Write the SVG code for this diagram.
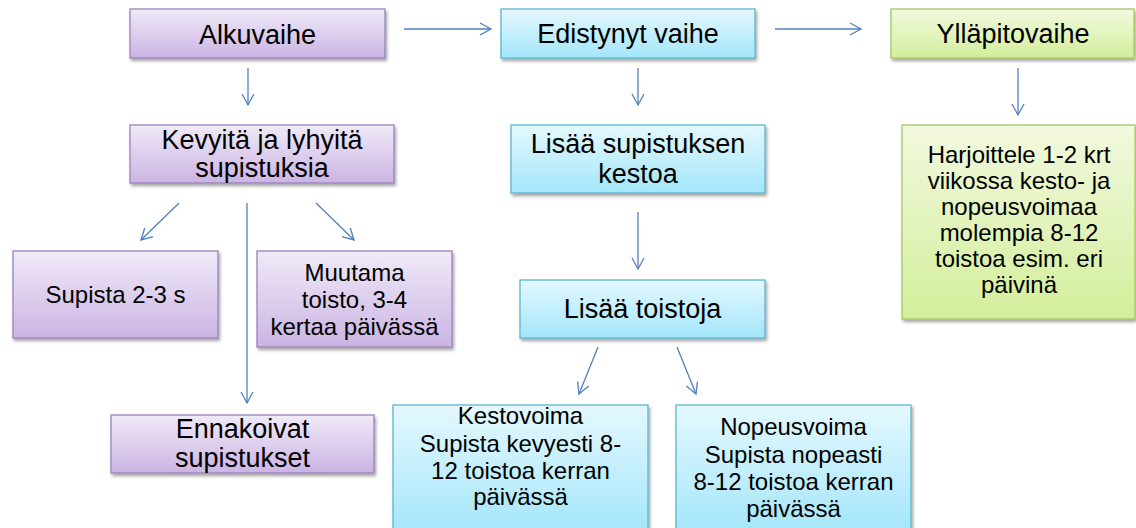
<svg xmlns="http://www.w3.org/2000/svg" width="1136" height="528" viewBox="0 0 1136 528">
<defs>
<linearGradient id="gp" x1="0" y1="0" x2="0" y2="1"><stop offset="0" stop-color="#F0EAF8"/><stop offset="1" stop-color="#CBB4E3"/></linearGradient>
<linearGradient id="gc" x1="0" y1="0" x2="0" y2="1"><stop offset="0" stop-color="#E4F8FE"/><stop offset="1" stop-color="#A3E6FB"/></linearGradient>
<linearGradient id="gg" x1="0" y1="0" x2="0" y2="1"><stop offset="0" stop-color="#F2F9DF"/><stop offset="1" stop-color="#D3EE9A"/></linearGradient>
<filter id="sh" x="-10%" y="-10%" width="120%" height="130%"><feDropShadow dx="1.5" dy="2.5" stdDeviation="1.8" flood-color="#000" flood-opacity="0.35"/></filter>
<marker id="ah" markerUnits="userSpaceOnUse" markerWidth="14" markerHeight="14" refX="12" refY="7" orient="auto" viewBox="0 0 14 14"><path d="M1,1 L12,7 L1,13" fill="none" stroke="#4F81BD" stroke-width="1.3"/></marker>
</defs>
<style>
.p{fill:url(#gp);stroke:#9A82BC;stroke-width:1.3;filter:url(#sh)}
.c{fill:url(#gc);stroke:#5DB6CE;stroke-width:1.3;filter:url(#sh)}
.g{fill:url(#gg);stroke:#A6C766;stroke-width:1.3;filter:url(#sh)}
text{font-family:"Liberation Sans",Arial,sans-serif;fill:#000;text-anchor:middle}
.t{font-size:27px}
.s{font-size:24px}
.cn line{stroke:#4F81BD;stroke-width:1.3;marker-end:url(#ah)}
</style>
<rect width="1136" height="528" fill="#fff"/>
<g id="alkuvaihe"><rect class="p" x="130" y="9" width="255" height="49"/><text class="t" x="257.5" y="44">Alkuvaihe</text></g>
<g id="edistynyt"><rect class="c" x="501" y="9" width="254" height="49"/><text class="t" x="628" y="43">Edistynyt vaihe</text></g>
<g id="yllapito"><rect class="g" x="891" y="9" width="243" height="49"/><text class="t" x="1013" y="43">Ylläpitovaihe</text></g>
<g id="kevyita"><rect class="p" x="130" y="125" width="264" height="58"/><text class="t" x="262" y="149">Kevyitä ja lyhyitä</text><text class="t" x="262" y="177">supistuksia</text></g>
<g id="kestoa"><rect class="c" x="511" y="125" width="254" height="68"/><text class="t" x="638" y="153">Lisää supistuksen</text><text class="t" x="638" y="183">kestoa</text></g>
<g id="harjoittele"><rect class="g" x="902" y="125" width="233" height="194"/>
<text class="s" x="1019" y="163">Harjoittele 1-2 krt</text><text class="s" x="1019" y="189">viikossa kesto- ja</text><text class="s" x="1019" y="215">nopeusvoimaa</text><text class="s" x="1019" y="241">molempia 8-12</text><text class="s" x="1019" y="267">toistoa esim. eri</text><text class="s" x="1019" y="293">päivinä</text></g>
<g id="supista"><rect class="p" x="13" y="251" width="205" height="87"/><text class="s" x="115.5" y="303">Supista 2-3 s</text></g>
<g id="muutama"><rect class="p" x="257" y="251" width="195" height="96"/><text class="s" x="354.5" y="281">Muutama</text><text class="s" x="354.5" y="308">toisto, 3-4</text><text class="s" x="354.5" y="335">kertaa päivässä</text></g>
<g id="toistoja"><rect class="c" x="520" y="280" width="245" height="58"/><text class="t" x="642.5" y="318">Lisää toistoja</text></g>
<g id="ennakoivat"><rect class="p" x="111" y="415" width="263" height="58"/><text class="t" x="242.5" y="438">Ennakoivat</text><text class="t" x="242.5" y="467">supistukset</text></g>
<g id="kestovoima"><rect class="c" x="393" y="405" width="255" height="130"/><text class="s" x="520.5" y="424">Kestovoima</text><text class="s" x="520.5" y="452">Supista kevyesti 8-</text><text class="s" x="520.5" y="479">12 toistoa kerran</text><text class="s" x="520.5" y="505">päivässä</text></g>
<g id="nopeusvoima"><rect class="c" x="676" y="405" width="235" height="130"/><text class="s" x="793.5" y="435">Nopeusvoima</text><text class="s" x="793.5" y="463">Supista nopeasti</text><text class="s" x="793.5" y="490">8-12 toistoa kerran</text><text class="s" x="793.5" y="517">päivässä</text></g>
<g id="connectors" class="cn">
<line x1="404" y1="29" x2="491" y2="29"/>
<line x1="775" y1="29" x2="861" y2="29"/>
<line x1="248" y1="68" x2="248" y2="105"/>
<line x1="638" y1="68" x2="638" y2="105"/>
<line x1="1018" y1="68" x2="1018" y2="115"/>
<line x1="638" y1="212" x2="638" y2="269"/>
<line x1="179" y1="203" x2="141" y2="240"/>
<line x1="247" y1="203" x2="247" y2="403"/>
<line x1="316" y1="203" x2="354" y2="240"/>
<line x1="598" y1="347" x2="579" y2="394"/>
<line x1="677" y1="347" x2="696" y2="394"/>
</g>
</svg>
